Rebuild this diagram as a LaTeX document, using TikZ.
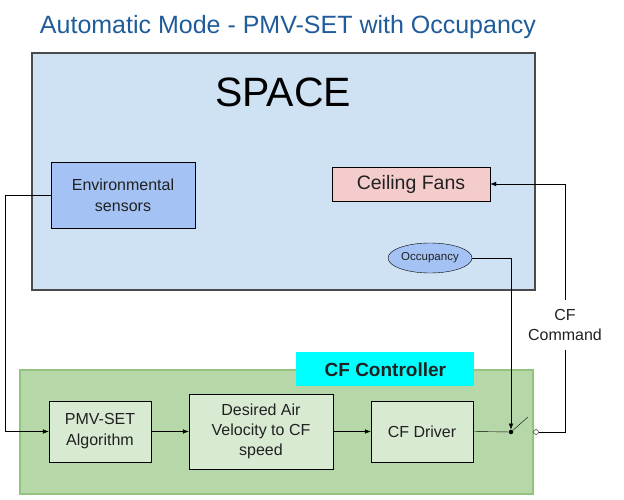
\documentclass[tikz,border=0pt]{standalone}
\usepackage{fontspec}
\setmainfont{Liberation Sans}
\usepackage{xcolor}
\usetikzlibrary{arrows.meta,shapes.geometric}
\definecolor{title-blue}{HTML}{1F5C99}
\definecolor{space-fill}{HTML}{CFE2F3}
\definecolor{space-edge}{HTML}{4A4A4A}
\definecolor{sensor-fill}{HTML}{A4C2F4}
\definecolor{fan-fill}{HTML}{F4CCCC}
\definecolor{ctrl-fill}{HTML}{B6D7A8}
\definecolor{ctrl-edge}{HTML}{93C47D}
\definecolor{block-fill}{HTML}{D9EAD3}
\definecolor{title-cyan}{HTML}{00FFFF}
\definecolor{ink}{HTML}{212121}
\tikzset{
    plain-box/.style = {draw=black, thin, rectangle, inner sep=0pt, align=center, text=ink, font=\fontsize{16}{21}\selectfont},
    space-box/.style = {draw=space-edge, fill=space-fill, line width=1.1pt, rectangle, inner sep=0pt},
    ctrl-box/.style = {draw=ctrl-edge, fill=ctrl-fill, line width=1.1pt, rectangle, inner sep=0pt},
    ctrl-title/.style = {fill=title-cyan, text=ink, font=\fontsize{19}{23}\selectfont\bfseries, minimum width=178pt, minimum height=34pt},
    block-box/.style = {plain-box, fill=block-fill},
    flow/.style = {draw=black, thin, -{Latex[length=6pt,width=4.5pt]}},
    wire/.style = {draw=black, thin},
}

\begin{document}
\begin{tikzpicture}[x=1pt, y=-1pt]
\useasboundingbox (0,0) rectangle (624,500);
\node[text=title-blue, font=\fontsize{25}{30}\selectfont] (title) at (288,27) {Automatic Mode - PMV-SET with Occupancy};

% the room
\node[space-box, minimum width=503pt, minimum height=237pt] (space) at (283.5,171.5) {};
\node[text=black, font=\fontsize{41}{48}\selectfont] (space-label) at (283,92) {SPACE};
\node[plain-box, fill=sensor-fill, minimum width=144pt, minimum height=66pt] (env) at (123,195) {Environmental\\sensors};
\node[plain-box, fill=fan-fill, minimum width=158pt, minimum height=34pt, font=\fontsize{19.5}{23}\selectfont] (fans) at (411,184) {Ceiling Fans};
\node[draw=black, thin, ellipse, fill=sensor-fill, minimum width=84pt, minimum height=30pt, inner sep=0pt, text=ink, font=\fontsize{11.5}{14}\selectfont] (occ) at (430,258) {Occupancy};

% the controller
\node[ctrl-box, minimum width=513pt, minimum height=124pt] (ctrl) at (276.5,432) {};
\node[ctrl-title, left=59pt] at (ctrl.north east) {CF Controller};
\node[block-box, minimum width=102pt, minimum height=61pt] (pmv) at (100,431.5) {PMV-SET\\Algorithm};
\node[block-box, minimum width=144pt, minimum height=75pt, font=\fontsize{16}{20}\selectfont] (des) at (261,431.5) {Desired Air\\Velocity to CF\\speed};
\node[block-box, minimum width=102pt, minimum height=61pt] (drv) at (422,431.5) {CF Driver};

% switch
\node[circle, fill=black, inner sep=0pt, minimum size=4.5pt] (sw-pivot) at (511,432) {};
\coordinate (sw-tip) at (528,417);
\node[circle, draw=black, fill=white, thin, inner sep=0pt, minimum size=5pt] (sw-out) at (536,432) {};
\node[align=center, text=ink, font=\fontsize{16}{20}\selectfont, inner sep=9pt] (cmd) at (565,325) {CF\\Command};
\coordinate (left-turn) at (5,195);

% connectors
\draw[flow] (env.west) -- (left-turn) |- (pmv.west);
\draw[flow] (pmv) -- (des);
\draw[flow] (des) -- (drv);
\draw[wire] (drv.east) -- (sw-pivot);
\draw[flow] (occ.east) -| (sw-pivot.north);
\draw[wire] (sw-pivot) -- (sw-tip);
\draw[wire] (sw-out.east) -| (cmd.south);
\draw[flow] (cmd.north) |- (fans.east);
\end{tikzpicture}
\end{document}
